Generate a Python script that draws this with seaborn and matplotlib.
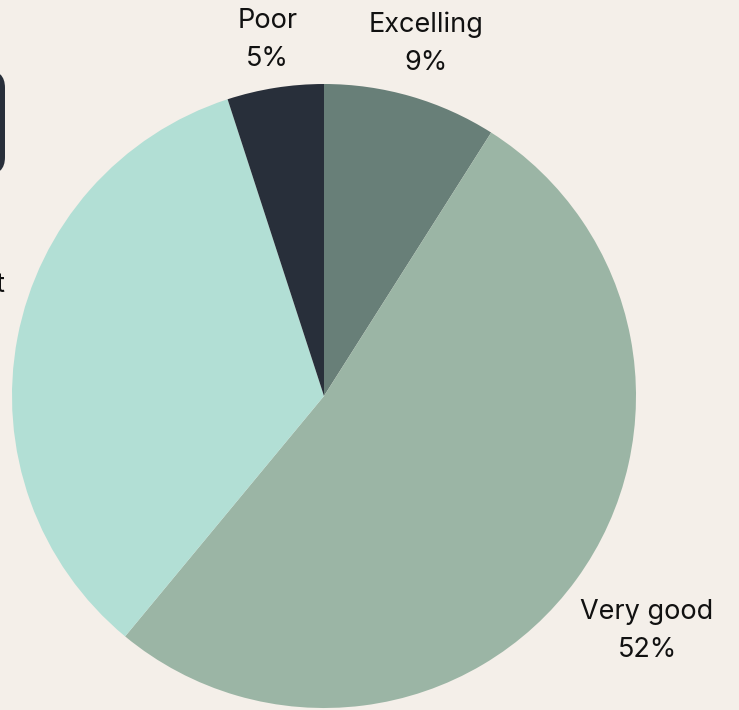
import matplotlib
matplotlib.use("Agg")
import matplotlib.pyplot as plt
import seaborn as sns
import numpy as np
from matplotlib.patches import FancyBboxPatch

categories = ["Excelling", "Very good", "Sufficient", "Poor"]
values = [9, 52, 34, 5]
colors = ["#687f78", "#9bb5a5", "#b2dfd5", "#282f3a"]
label_dist = [1.175, 1.28, 1.255, 1.155]
label_shift = [0, 0, -2.8, 0]

sns.set_theme(style="white")
plt.rcParams['font.family'] = ['Inter', 'DejaVu Sans']
bg = "#f4efe9"

W, H = 739, 710
fig = plt.figure(figsize=(W / 100, H / 100), dpi=100, facecolor=bg)
cx, cy, r = 324, 314, 312
ax = fig.add_axes([(cx - r) / W, (cy - r) / H, 2 * r / W, 2 * r / H])
ax.set_facecolor(bg)

wedges, _ = ax.pie(values, colors=colors, startangle=90, counterclock=False,
                   radius=1.0, wedgeprops=dict(linewidth=0))
for w, cat, v, d, s in zip(wedges, categories, values, label_dist, label_shift):
    ang = np.deg2rad((w.theta1 + w.theta2) / 2 + s)
    ax.text(d * np.cos(ang), d * np.sin(ang), f"{cat}\n{v}%", ha="center", va="center",
            fontsize=19.5, color="#111111", linespacing=1.6, clip_on=False)

ax.set_xlim(-1, 1)
ax.set_ylim(-1, 1)
ax.set_aspect("equal")
ax.axis("off")

# partially visible dark tooltip box at the left edge
box = FancyBboxPatch((-100 / W, (H - 175) / H), 105 / W, 105 / H,
                     boxstyle="round,pad=0,rounding_size=0.025",
                     transform=fig.transFigure, facecolor="#282f3a", edgecolor="none")
fig.patches.append(box)

fig.savefig("out.png", dpi=100, facecolor=bg)
